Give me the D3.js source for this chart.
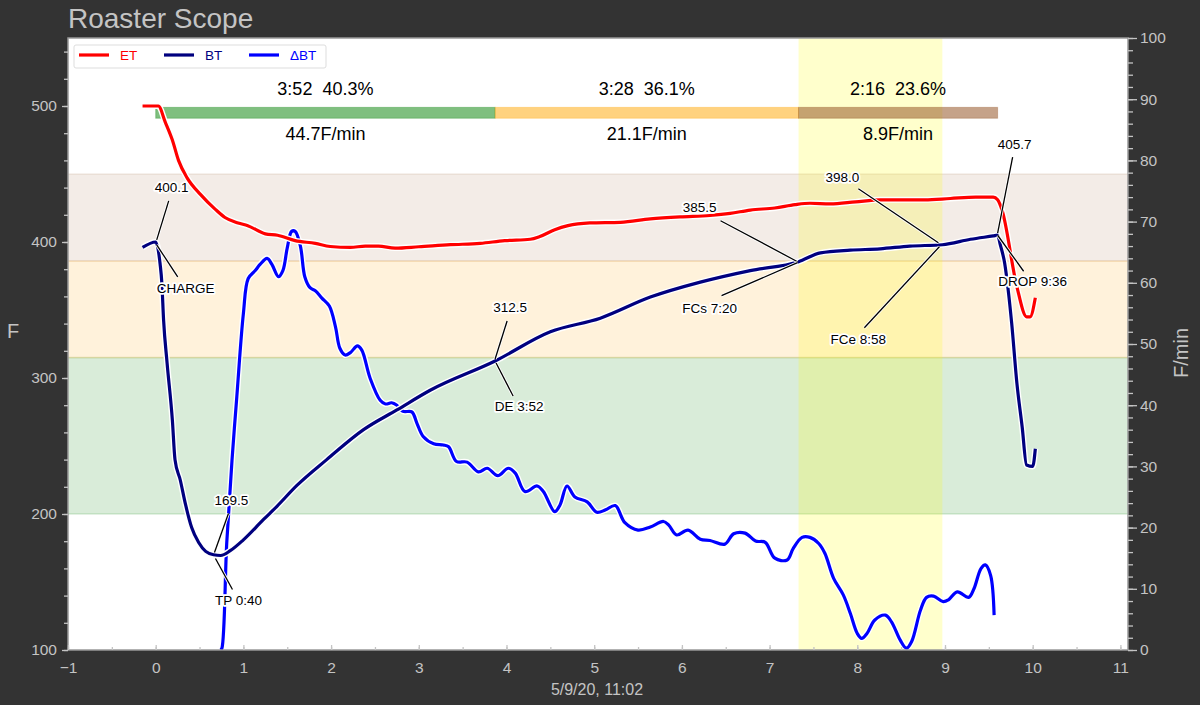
<!DOCTYPE html>
<html>
<head>
<meta charset="utf-8">
<script src="https://cdnjs.cloudflare.com/ajax/libs/d3/7.8.5/d3.min.js"></script>
<style>
  html, body { margin: 0; padding: 0; background: #333333; }
  svg { display: block; font-family: "Liberation Sans", Arial, sans-serif; }
  .halo { paint-order: stroke; stroke: #fff; stroke-linejoin: round; }
</style>
</head>
<body>
<svg id="chart" width="1200" height="705"></svg>
<script>
// curves: time in minutes, temps in F, rate of rise in F/min
const etTime = [-0.15,0.03,0.11,0.19,0.26,0.36,0.51,0.68,0.79,0.94,1.05,1.25,1.39,1.59,1.82,1.99,2.22,2.39,2.54,2.73,3.0,3.36,3.7,3.98,4.27,4.38,4.55,4.7,4.95,5.3,5.64,5.98,6.32,6.55,6.78,7.06,7.29,7.46,7.69,7.98,8.26,8.55,8.77,9.06,9.35,9.55,9.6,9.65,9.82,9.93,9.97,10.03];
const etTemp = [500,500,488,475,460,447,435,424,418,414,412,406,405,401,399,396.7,396,397,397,395.5,396.5,398,399,401,402,404,409,412,414,414.5,417,418.5,419.5,421,423.5,425,427.5,428.5,428,429.5,431,431,431,432,433,433,431,423.5,367,345,345,359];

const btTime = [-0.15,0,0.05,0.07,0.09,0.13,0.19,0.22,0.28,0.34,0.41,0.49,0.57,0.66,0.74,0.85,1.0,1.23,1.38,1.61,1.95,2.37,2.75,3.13,3.87,4.5,5.07,5.64,6.21,6.78,7.33,7.58,7.92,8.26,8.6,8.97,9.29,9.55,9.6,9.63,9.68,9.72,9.76,9.82,9.88,9.93,10.0,10.03];
const btTemp = [396,400,384,370,342.5,311,269,240,225,207,190,179,172.5,170,169.5,173,181,196,205.5,221,240,262,276.5,291,312.5,334,344,359.5,370.5,379,385.5,392,394,395,397,398,402,404.5,405,398,384.5,365,340.5,296,264,236,235,248];

const rorTime = [0.74,0.755,0.81,0.87,0.925,1.0,1.055,1.135,1.19,1.27,1.325,1.4,1.45,1.5,1.55,1.59,1.65,1.7,1.76,1.82,1.895,1.98,2.05,2.1,2.16,2.22,2.3,2.35,2.445,2.56,2.62,2.69,2.75,2.82,2.92,2.98,3.05,3.17,3.28,3.34,3.43,3.55,3.68,3.78,3.9,4.02,4.1,4.21,4.35,4.42,4.55,4.61,4.69,4.78,4.92,5.03,5.13,5.24,5.35,5.5,5.64,5.79,5.85,5.94,6.07,6.21,6.32,6.49,6.59,6.72,6.84,6.95,7.06,7.2,7.27,7.37,7.46,7.56,7.63,7.73,7.84,7.92,8.0,8.05,8.11,8.2,8.32,8.39,8.49,8.56,8.62,8.72,8.79,8.87,8.98,9.04,9.14,9.27,9.33,9.41,9.46,9.52,9.56];
const rorValue = [0,0.3,17.5,31,41.4,55,60.7,62,63,64,63,61,62,65.7,68.4,68.4,66,61,59.2,58.7,57.5,56.2,52.8,49.3,48.2,48.6,49.7,49,44.4,40.8,40.2,40.4,40,39,38.9,37,34.9,33.7,33.5,33.2,30.8,30.7,29.1,29.7,28.5,29.7,28.9,25.9,26.8,25.9,22.6,23.7,26.8,25,24.2,22.5,22.9,23.6,20.8,19.6,20.1,21,20.4,18.8,19.6,18.1,17.9,17.3,19,19.1,17.8,17.6,15,14.7,16.6,18.4,18.4,17.4,15.8,11.7,9,6,2.7,1.9,2.7,4.9,5.7,4.6,1.6,0.3,1.4,6.5,8.6,8.8,7.9,8.2,9.5,8.6,10,13.3,13.9,12.2,5.7];

// roast phases
const phaseStart = [0, 3.87, 7.33];
const phaseEnd = [3.87, 7.33, 9.6];
const phaseTime = ["3:52  40.3%", "3:28  36.1%", "2:16  23.6%"];
const phaseRate = ["44.7F/min", "21.1F/min", "8.9F/min"];
const phaseBarTemps = [499, 491];

// background temperature bands and first crack span
const bandLow = [200, 315, 386];
const bandHigh = [315, 386, 450];
const crackSpan = [7.33, 8.97];

// events
const eventTime = [0, 0.67, 3.87, 7.33, 8.97, 9.6];
const eventTemp = [400.1, 169.5, 312.5, 385.5, 398.0, 405.7];
const eventValue = ["400.1", "169.5", "312.5", "385.5", "398.0", "405.7"];
const eventLabel = ["CHARGE", "TP 0:40", "DE 3:52", "FCs 7:20", "FCe 8:58", "DROP 9:36"];

const seriesNames = ["ET", "BT", "\u0394BT"];
const xTicks = [-1,0,1,2,3,4,5,6,7,8,9,10,11];
const leftTicks = [100,200,300,400,500];
const rightTicks = [0,10,20,30,40,50,60,70,80,90,100];

// ---- layout and styles ----
const plot = { left: 68, right: 1128, top: 38, bottom: 650 };
const pxPerMin = 87.7;
const bandColors = ["#008000", "#ffa500", "#8b4513"];
const bandAlpha = [0.15, 0.14, 0.1];
const phaseColors = ["#008000", "#ffa500", "#8b4513"];
const seriesColors = ["#ff0000", "#00007f", "#0000ff"];
const grey = "#c4c4c4";
const spine = "#999999";

// pixel offsets of annotation text and leader lines from each event point
const valueOffsets = [
    { tx: 16, ty: -55, x1: 1, y1: -2, x2: 13, y2: -41 },
    { tx: 17, ty: -55, x1: 0, y1: -3, x2: 14, y2: -42 },
    { tx: 15, ty: -54, x1: 0, y1: -2, x2: 12, y2: -40 },
    { tx: -99, ty: -55, x1: -1, y1: 0, x2: -78, y2: -41 },
    { tx: -100, ty: -68, x1: -4, y1: -2, x2: -84, y2: -56 },
    { tx: 17, ty: -90, x1: 0, y1: -1, x2: 15, y2: -77 }
];
const labelOffsets = [
    { tx: 30, ty: 46, x1: 1, y1: 3, x2: 22, y2: 35 },
    { tx: 24, ty: 45, x1: 1, y1: 3, x2: 18, y2: 34 },
    { tx: 24, ty: 45, x1: 1, y1: 2, x2: 18, y2: 35 },
    { tx: -89, ty: 46, x1: -1, y1: 1, x2: -77, y2: 34 },
    { tx: -84, ty: 94, x1: -3, y1: 2, x2: -78, y2: 83 },
    { tx: 35, ty: 47, x1: 0, y1: 1, x2: 26, y2: 37 }
];

const svg = d3.select("#chart");

const x = d3.scaleLinear()
    .domain([-1, -1 + (plot.right - plot.left) / pxPerMin])
    .range([plot.left, plot.right]);
const yTemp = d3.scaleLinear().domain([100, 550]).range([plot.bottom, plot.top]);
const yRor = d3.scaleLinear().domain([0, 100]).range([plot.bottom, plot.top]);

svg.append("defs").append("clipPath").attr("id", "plotclip")
    .append("rect")
    .attr("x", plot.left).attr("y", plot.top)
    .attr("width", plot.right - plot.left).attr("height", plot.bottom - plot.top);

svg.append("rect")
    .attr("x", plot.left).attr("y", plot.top)
    .attr("width", plot.right - plot.left).attr("height", plot.bottom - plot.top)
    .attr("fill", "#fff");

const inner = svg.append("g").attr("clip-path", "url(#plotclip)");

// bands
inner.selectAll(".band")
    .data(bandLow)
    .join("rect")
    .attr("class", "band")
    .attr("x", plot.left - 3)
    .attr("width", plot.right - plot.left + 6)
    .attr("y", (d, i) => yTemp(bandHigh[i]))
    .attr("height", (d, i) => yTemp(d) - yTemp(bandHigh[i]))
    .attr("fill", (d, i) => bandColors[i])
    .attr("fill-opacity", (d, i) => bandAlpha[i])
    .attr("stroke", (d, i) => bandColors[i])
    .attr("stroke-opacity", (d, i) => bandAlpha[i])
    .attr("stroke-width", 1.5);

inner.append("rect")
    .attr("x", x(crackSpan[0]))
    .attr("width", x(crackSpan[1]) - x(crackSpan[0]))
    .attr("y", plot.top)
    .attr("height", plot.bottom - plot.top)
    .attr("fill", "#ffff00")
    .attr("fill-opacity", 0.2);

// phase bars
inner.selectAll(".phase")
    .data(phaseStart)
    .join("rect")
    .attr("class", "phase")
    .attr("x", d => x(d))
    .attr("width", (d, i) => x(phaseEnd[i]) - x(d))
    .attr("y", yTemp(phaseBarTemps[0]))
    .attr("height", yTemp(phaseBarTemps[1]) - yTemp(phaseBarTemps[0]))
    .attr("fill", (d, i) => phaseColors[i])
    .attr("fill-opacity", 0.5)
    .attr("stroke", (d, i) => phaseColors[i])
    .attr("stroke-opacity", 0.3)
    .attr("stroke-width", 1);

const phaseMid = (d, i) => (x(d) + x(phaseEnd[i])) / 2;
inner.selectAll(".phasetime")
    .data(phaseStart)
    .join("text")
    .attr("class", "phasetime")
    .attr("x", phaseMid)
    .attr("y", yTemp(phaseBarTemps[0]) - 12)
    .attr("text-anchor", "middle")
    .attr("font-size", 18)
    .attr("fill", "#000")
    .style("white-space", "pre")
    .text((d, i) => phaseTime[i]);
inner.selectAll(".phaserate")
    .data(phaseStart)
    .join("text")
    .attr("class", "phaserate")
    .attr("x", phaseMid)
    .attr("y", yTemp(phaseBarTemps[1]) + 22)
    .attr("text-anchor", "middle")
    .attr("font-size", 18)
    .attr("fill", "#000")
    .text((d, i) => phaseRate[i]);

// curves, white halo below each stroke
const tempPoints = (times, temps) => times.map((t, i) => [x(t), yTemp(temps[i])]);
const rorPoints = rorTime.map((t, i) => [x(t), yRor(rorValue[i])]);
const monotone = d3.line().curve(d3.curveMonotoneX);
const smooth = d3.line().curve(d3.curveCatmullRom.alpha(0.5));

const addCurve = (d, color) => {
    inner.append("path").attr("d", d).attr("fill", "none")
        .attr("stroke", "#fff").attr("stroke-width", 6).attr("stroke-linejoin", "round");
    inner.append("path").attr("d", d).attr("fill", "none")
        .attr("stroke", color).attr("stroke-width", 3.2).attr("stroke-linejoin", "round");
};
addCurve(smooth(rorPoints), seriesColors[2]);
addCurve(monotone(tempPoints(etTime, etTemp)), seriesColors[0]);
addCurve(monotone(tempPoints(btTime, btTemp)), seriesColors[1]);

// annotations
const addAnnotations = (texts, offsets) => {
    const g = svg.append("g").selectAll("g")
        .data(eventTime)
        .join("g")
        .attr("transform", (d, i) => `translate(${x(d)},${yTemp(eventTemp[i])})`);
    [["#fff", 3], ["#000", 1.3]].forEach(([color, width]) => {
        g.append("line")
            .attr("x1", (d, i) => offsets[i].x1).attr("y1", (d, i) => offsets[i].y1)
            .attr("x2", (d, i) => offsets[i].x2).attr("y2", (d, i) => offsets[i].y2)
            .attr("stroke", color).attr("stroke-width", width);
    });
    g.append("text")
        .attr("class", "halo")
        .attr("x", (d, i) => offsets[i].tx)
        .attr("y", (d, i) => offsets[i].ty)
        .attr("dy", "0.36em")
        .attr("text-anchor", "middle")
        .attr("font-size", 13.5)
        .attr("stroke-width", 3.5)
        .attr("fill", "#000")
        .text((d, i) => texts[i]);
};
addAnnotations(eventValue, valueOffsets);
addAnnotations(eventLabel, labelOffsets);

// frame
svg.append("rect")
    .attr("x", plot.left).attr("y", plot.top)
    .attr("width", plot.right - plot.left).attr("height", plot.bottom - plot.top)
    .attr("fill", "none").attr("stroke", spine).attr("stroke-width", 1.5);

// axes
const styleAxis = (g) => {
    g.select(".domain").remove();
    g.selectAll("line").attr("stroke", grey).attr("stroke-width", 1.3);
    g.selectAll("text").attr("fill", grey).attr("font-size", 15.5).attr("font-family", "Liberation Sans");
};

const minorX = d3.range(-1, 11.01, 0.5);
svg.append("g").attr("transform", `translate(0,${plot.bottom})`)
    .call(d3.axisBottom(x).tickValues(minorX).tickSize(-3).tickFormat(""))
    .call(styleAxis);
svg.append("g").attr("transform", `translate(0,${plot.bottom})`)
    .call(d3.axisBottom(x).tickValues(xTicks).tickSize(-5).tickPadding(12).tickFormat(d3.format("d")))
    .call(styleAxis);

svg.append("g").attr("transform", `translate(${plot.left},0)`)
    .call(d3.axisLeft(yTemp).tickValues(d3.range(100, 541, 20)).tickSize(4).tickFormat(""))
    .call(styleAxis);
svg.append("g").attr("transform", `translate(${plot.left},0)`)
    .call(d3.axisLeft(yTemp).tickValues(leftTicks).tickSize(6).tickPadding(5))
    .call(styleAxis);

svg.append("g").attr("transform", `translate(${plot.right},0)`)
    .call(d3.axisRight(yRor).tickValues(d3.range(0, 101, 2)).tickSize(5).tickFormat(""))
    .call(styleAxis);
svg.append("g").attr("transform", `translate(${plot.right},0)`)
    .call(d3.axisRight(yRor).tickValues(rightTicks).tickSize(9).tickPadding(3))
    .call(styleAxis);

// titles
svg.append("text").attr("x", 68).attr("y", 28)
    .attr("font-size", 28).attr("fill", grey).text("Roaster Scope");
svg.append("text").attr("x", 13).attr("y", 338).attr("text-anchor", "middle")
    .attr("font-size", 20).attr("fill", grey).text("F");
svg.append("text").attr("transform", "translate(1188,353) rotate(-90)").attr("text-anchor", "middle")
    .attr("font-size", 20).attr("fill", grey).text("F/min");
svg.append("text").attr("x", 597).attr("y", 695).attr("text-anchor", "middle")
    .attr("font-size", 16).attr("fill", grey).text("5/9/20, 11:02");

// legend
const legend = svg.append("g").attr("transform", "translate(74,45)");
legend.append("rect")
    .attr("width", 252).attr("height", 23).attr("rx", 2)
    .attr("fill", "#fff").attr("stroke", "#dddddd");
const legendItem = legend.selectAll(".item")
    .data(seriesNames)
    .join("g")
    .attr("class", "item")
    .attr("transform", (d, i) => `translate(${5 + i * 85},10)`);
legendItem.append("line")
    .attr("x2", 30)
    .attr("stroke", (d, i) => seriesColors[i])
    .attr("stroke-width", 3.2);
legendItem.append("text")
    .attr("x", 41)
    .attr("dy", "0.36em")
    .attr("font-size", 13.5)
    .attr("fill", (d, i) => seriesColors[i])
    .text(d => d);
</script>
</body>
</html>
